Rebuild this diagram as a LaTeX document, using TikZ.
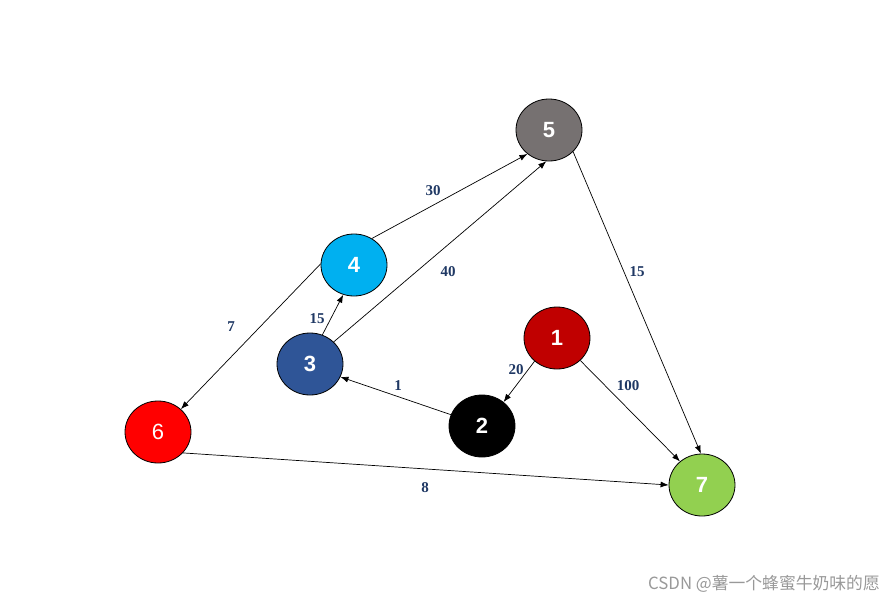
\documentclass[tikz,border=0pt]{standalone}
\usepackage{fontspec}
\setmainfont{Liberation Sans}
\newfontfamily\labfont{Liberation Serif}
\newfontfamily\cjk{Noto Sans CJK SC}
\usetikzlibrary{shapes.geometric,arrows.meta}
\definecolor{cgray}{HTML}{767171}
\definecolor{cblue}{HTML}{00B0F0}
\definecolor{cnavy}{HTML}{2F5597}
\definecolor{cdred}{HTML}{C00000}
\definecolor{cred}{HTML}{FF0000}
\definecolor{cgreen}{HTML}{92D050}
\definecolor{labcol}{HTML}{1F3864}
\tikzset{
  vtx/.style={ellipse, draw=black, line width=0.8pt, minimum width=66pt, minimum height=62pt, inner sep=0pt, text=white, font=\fontsize{22}{26}\selectfont\bfseries},
  edge/.style={draw=black, line width=0.7pt, -{Latex[length=8pt,width=6pt]}},
  elab/.style={text=labcol, font=\labfont\fontsize{15}{17}\selectfont\bfseries, inner sep=1pt},
}
\begin{document}
\begin{tikzpicture}[x=1pt,y=-1pt]
\useasboundingbox[fill=white] (0,0) rectangle (895,603);
\node[vtx, fill=cgray] (n5) at (549,130) {5};
\node[vtx, fill=cblue] (n4) at (354,265) {4};
\node[vtx, fill=cnavy] (n3) at (310,364) {3};
\node[vtx, fill=cdred] (n1) at (557,338) {1};
\node[vtx, fill=black] (n2) at (482,426) {2};
\node[vtx, fill=cred, font=\fontsize{22}{26}\selectfont] (n6) at (158,432) {6};
\node[vtx, fill=cgreen] (n7) at (702,485) {7};

\draw[edge] (n4.56) -- (n5.228);
\draw[edge] (n3.43) -- (n5.265);
\draw[edge] (n5.-42) -- (n7.92);
\draw[edge] (n3.67) -- (n4.250);
\draw[edge] (n4.178) -- (n6.45);
\draw[edge] (n1.226) -- (n2.48);
\draw[edge] (n1.-44) -- (n7.133);
\draw[edge] (n2.160) -- (n3.-23);
\draw[edge] (n6.-40) -- (n7.180);

\node[elab] (l30) at (433,191) {30};
\node[elab] (l40) at (448,272) {40};
\node[elab] (l15a) at (637,272) {15};
\node[elab] (l15b) at (317,319) {15};
\node[elab] (l7) at (231,327) {7};
\node[elab] (l20) at (516,370) {20};
\node[elab] (l100) at (628,386) {100};
\node[elab] (l1) at (398,386) {1};
\node[elab] (l8) at (425,488) {8};

\node[text=black!40, font=\cjk\fontsize{16.8}{20}\selectfont, anchor=east, inner sep=0pt] (wm) at (880,584) {CSDN @薯一个蜂蜜牛奶味的愿};
\end{tikzpicture}
\end{document}
